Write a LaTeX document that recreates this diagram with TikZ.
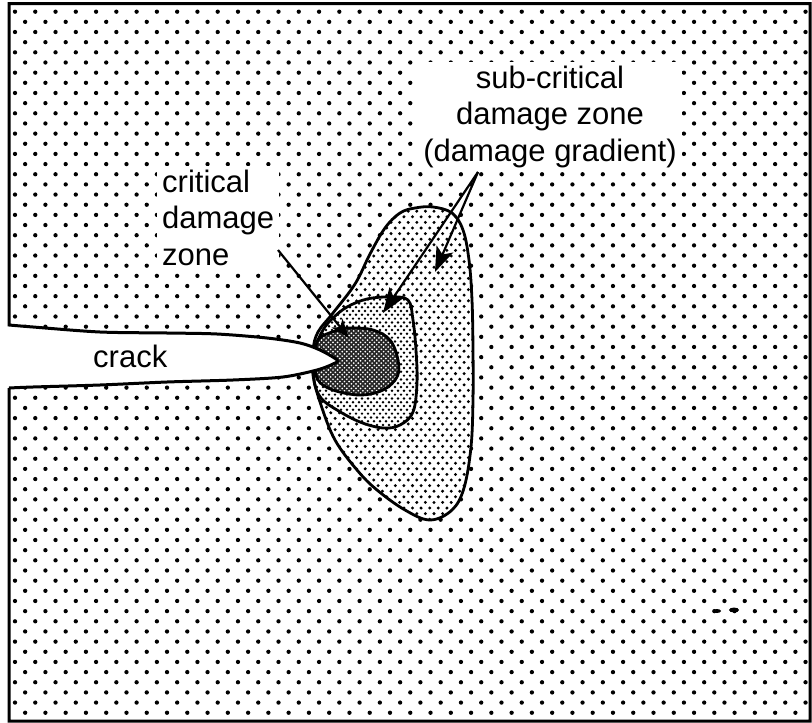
\documentclass[tikz,border=0pt]{standalone}
\usepackage{fontspec}
\setmainfont{Liberation Sans}
\usetikzlibrary{arrows.meta}
\newcommand\dotfield[8]{%
  \pgfmathtruncatemacro\nrows{((#4)-(#3))/(#6)}%
  \pgfmathtruncatemacro\ncols{((#2)-(#1))/(#5)}%
  \foreach \k in {0,...,\nrows}{%
    \fill[#8] foreach \j in {0,...,\ncols} {({#1+mod(\k,2)*(#5)/2+\j*(#5)},{#3+\k*(#6)}) circle[radius=#7]};
  }%
}
\tikzset{
  zoneline/.style={line width=2.8pt, line join=round},
  frameline/.style={line width=3pt, line join=miter},
  lbl/.style={font=\fontsize{31}{36.5}\selectfont, inner xsep=5pt, inner ysep=4pt},
  arr/.style={line width=2.2pt, -{Stealth[length=25pt,width=18pt,inset=6pt]}},
  arrsmall/.style={line width=2.2pt, -{Stealth[length=19pt,width=14pt,inset=5pt]}},
}
\begin{document}
\begin{tikzpicture}[x=1pt,y=-1pt]
\useasboundingbox (0,0) rectangle (812,723);
\fill[white] (0,0) rectangle (812,723);
% background dots
\begin{scope}
  \clip (11,5) rectangle (808,719);
  \dotfield{15}{806}{11.7}{716}{20.27}{10.16}{2.15}{black}
\end{scope}
% outer (sub-critical) zone
\begin{scope}
  \clip plot[smooth cycle, tension=0.6] coordinates {(433,207) (452,213) (463,230) (469,260) (472,300) (473,350) (473,400) (471,447) (464,488) (452,510) (430,520) (405,510) (377,490) (357,470) (335,440) (321,405) (313,375) (313,350) (318,332) (333,313) (355,284) (370,254) (385,228) (400,213) (415,208)};
  \fill[white] (300,195) rectangle (485,530);
  \dotfield{305}{480}{200}{525}{8.6}{5.6}{1.65}{black}
\end{scope}
% middle zone
\begin{scope}
  \clip plot[smooth cycle, tension=0.6] coordinates {(347,307) (367,299) (390,297) (408,300) (413,320) (416,350) (417,383) (413,412) (400,425) (383,428) (360,422) (337,410) (321,398) (314,380) (315,350) (323,330) (333,318)};
  \fill[white] (305,290) rectangle (425,435);
  \dotfield{308}{422}{292}{432}{6}{3.8}{1.35}{black}
\end{scope}
% inner (critical) zone
\begin{scope}
  \clip plot[smooth cycle, tension=0.6] coordinates {(318,340) (335,331) (350,328) (373,330) (390,340) (398,360) (397,377) (383,390) (360,395) (333,390) (318,380) (315,362)};
  \fill[black!85] (305,320) rectangle (405,400);
  \dotfield{310}{404}{324}{400}{4.6}{2.3}{0.95}{white}
\end{scope}
% zone outlines
\draw[zoneline] plot[smooth cycle, tension=0.6] coordinates {(433,207) (452,213) (463,230) (469,260) (472,300) (473,350) (473,400) (471,447) (464,488) (452,510) (430,520) (405,510) (377,490) (357,470) (335,440) (321,405) (313,375) (313,350) (318,332) (333,313) (355,284) (370,254) (385,228) (400,213) (415,208)};
\draw[zoneline] plot[smooth cycle, tension=0.6] coordinates {(347,307) (367,299) (390,297) (408,300) (413,320) (416,350) (417,383) (413,412) (400,425) (383,428) (360,422) (337,410) (321,398) (314,380) (315,350) (323,330) (333,318)};
\draw[zoneline] plot[smooth cycle, tension=0.6] coordinates {(318,340) (335,331) (350,328) (373,330) (390,340) (398,360) (397,377) (383,390) (360,395) (333,390) (318,380) (315,362)};
% crack
\fill[white] (0,325) -- plot[smooth, tension=0.5] coordinates {(9,325) (33,327) (100,332) (167,333) (217,334) (267,338) (300,343) (320,350) (337,360) (333,364) (317,370) (283,377) (233,380) (167,382) (100,385) (33,387) (9,388)} -- (0,388) -- cycle;
% frame with crack outline
\draw[frameline] (9,388) -- (9,721) -- (810,721) -- (810,3.5) -- (9,3.5) -- (9,325)
  -- plot[smooth, tension=0.5] coordinates {(9,325) (33,327) (100,332) (167,333) (217,334) (267,338) (300,343) (320,350) (337,360) (333,364) (317,370) (283,377) (233,380) (167,382) (100,385) (33,387) (9,388)};
% specks
\fill (717,611) ellipse [x radius=4, y radius=2];
\fill (734,610) ellipse [x radius=5, y radius=2.5];
% labels
\node[lbl, anchor=base west, inner sep=0pt] (crack) at (93,367) {crack};
\node[lbl, fill=white, align=left, anchor=north west] (crit) at (157,165.8) {critical\\damage\\zone};
\node[lbl, fill=white, align=center, anchor=north] (sub) at (550,61.8) {sub-critical\\damage zone\\(damage gradient)};
% arrows
\coordinate (c0) at (278,250);
\coordinate (c1) at (349,338);
\coordinate (s0) at (478,172);
\coordinate (s1) at (435,272);
\coordinate (s2) at (383,313);
\draw[arrsmall] (c0) -- (c1);
\draw[arr] (s0) -- (s1);
\draw[arr] (s0) -- (s2);
\end{tikzpicture}
\end{document}
